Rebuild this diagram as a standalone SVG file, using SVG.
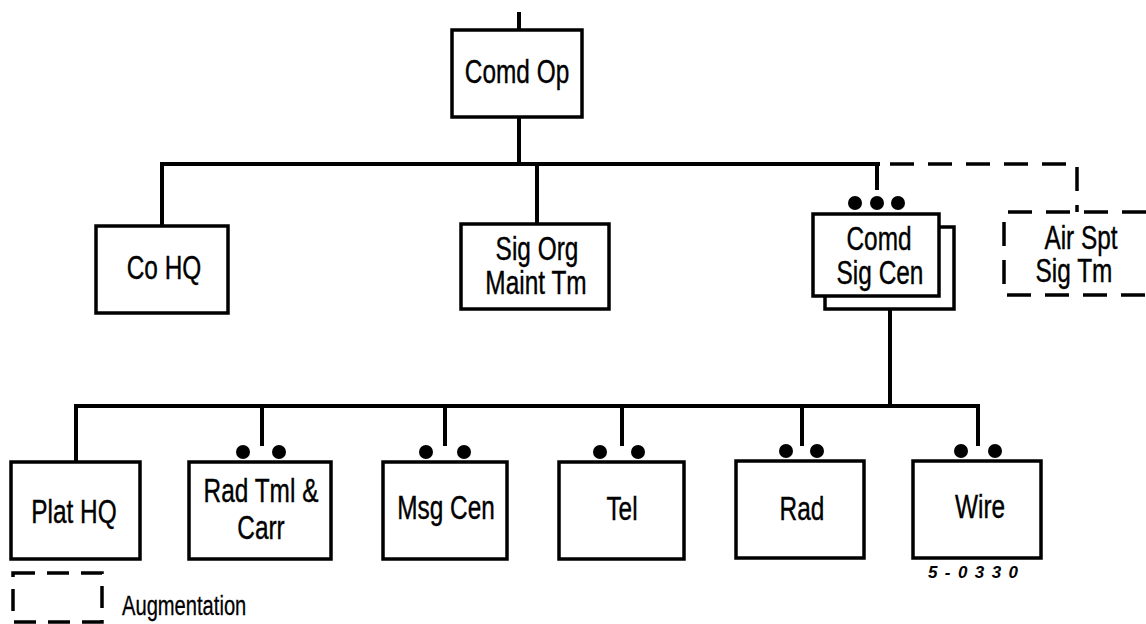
<svg xmlns="http://www.w3.org/2000/svg" width="1146" height="624" viewBox="0 0 1146 624">
<style>
.box{fill:#fff;stroke:#000;stroke-width:3.5}
.dash{fill:none;stroke:#000;stroke-width:3.5;stroke-dasharray:24 14}
.ln{fill:none;stroke:#000;stroke-width:4}
.dot{fill:#000}
.t{font-family:"Liberation Sans",Arial,sans-serif;font-size:33px;fill:#000;text-anchor:middle;stroke:#000;stroke-width:0.4}
.s{font-family:"Liberation Sans",Arial,sans-serif;font-size:28px;fill:#000;stroke:#000;stroke-width:0.3}
.n{font-family:"Liberation Sans",Arial,sans-serif;font-size:17px;font-style:italic;font-weight:bold;fill:#000}
</style>
<rect x="0" y="0" width="1146" height="624" fill="#fff"/>
<g id="connectors">
  <path class="ln" d="M519,12 V30"/>
  <path class="ln" d="M519,117 V164"/>
  <path class="ln" d="M162,226 V164 H880"/>
  <path class="ln" d="M537,164 V224"/>
  <path class="ln" d="M877,164 V190"/>
  <path class="dash" d="M890,164 H1077 V212"/>
  <path class="ln" d="M890,309 V406"/>
  <path class="ln" d="M76,462 V406 H978 V446"/>
  <path class="ln" d="M262,406 V446"/>
  <path class="ln" d="M445,406 V446"/>
  <path class="ln" d="M622,406 V446"/>
  <path class="ln" d="M802,406 V446"/>
</g>
<g id="comd-op">
  <rect class="box" x="452" y="30" width="130" height="87"/>
  <text class="t" transform="translate(517,83) scale(0.74,1)">Comd Op</text>
</g>
<g id="co-hq">
  <rect class="box" x="96" y="226" width="132" height="87"/>
  <text class="t" transform="translate(164,279) scale(0.74,1)">Co HQ</text>
</g>
<g id="sig-org-maint-tm">
  <rect class="box" x="461" y="224" width="148" height="85"/>
  <text class="t" transform="translate(537,260) scale(0.74,1)">Sig Org</text>
  <text class="t" transform="translate(536,294) scale(0.74,1)">Maint Tm</text>
</g>
<g id="comd-sig-cen">
  <rect class="box" x="825" y="227" width="129" height="82"/>
  <rect class="box" x="813" y="214" width="126" height="82"/>
  <circle class="dot" cx="855" cy="203" r="7"/>
  <circle class="dot" cx="877" cy="203" r="7"/>
  <circle class="dot" cx="898" cy="203" r="7"/>
  <text class="t" transform="translate(879,250) scale(0.74,1)">Comd</text>
  <text class="t" transform="translate(880,284) scale(0.74,1)">Sig Cen</text>
</g>
<g id="air-spt-sig-tm">
  <path class="dash" d="M1146,212 H1004 V295 H1146"/>
  <text class="t" transform="translate(1081,249) scale(0.74,1)">Air Spt</text>
  <text class="t" transform="translate(1074,282) scale(0.74,1)">Sig Tm</text>
</g>
<g id="plat-hq">
  <rect class="box" x="11" y="462" width="129" height="97"/>
  <text class="t" transform="translate(74,523) scale(0.74,1)">Plat HQ</text>
</g>
<g id="rad-tml-carr">
  <rect class="box" x="189" y="462" width="142" height="97"/>
  <circle class="dot" cx="243" cy="452" r="7"/>
  <circle class="dot" cx="279" cy="452" r="7"/>
  <text class="t" transform="translate(261,502) scale(0.74,1)">Rad Tml &amp;</text>
  <text class="t" transform="translate(261,539) scale(0.74,1)">Carr</text>
</g>
<g id="msg-cen">
  <rect class="box" x="383" y="462" width="124" height="97"/>
  <circle class="dot" cx="426" cy="452" r="7"/>
  <circle class="dot" cx="464" cy="452" r="7"/>
  <text class="t" transform="translate(446,519) scale(0.74,1)">Msg Cen</text>
</g>
<g id="tel">
  <rect class="box" x="559" y="462" width="125" height="97"/>
  <circle class="dot" cx="600" cy="452" r="7"/>
  <circle class="dot" cx="638" cy="452" r="7"/>
  <text class="t" transform="translate(622,520) scale(0.74,1)">Tel</text>
</g>
<g id="rad">
  <rect class="box" x="736" y="461" width="128" height="97"/>
  <circle class="dot" cx="786" cy="451" r="7"/>
  <circle class="dot" cx="817" cy="451" r="7"/>
  <text class="t" transform="translate(802,520) scale(0.74,1)">Rad</text>
</g>
<g id="wire">
  <rect class="box" x="913" y="461" width="128" height="97"/>
  <circle class="dot" cx="961" cy="451" r="7"/>
  <circle class="dot" cx="995" cy="451" r="7"/>
  <text class="t" transform="translate(980,518) scale(0.74,1)">Wire</text>
</g>
<text class="n" x="928" y="578" textLength="90" lengthAdjust="spacing">5-0330</text>
<g id="legend">
  <rect class="dash" x="13" y="573" width="89" height="49" style="stroke-dasharray:22 12"/>
  <text class="s" transform="translate(122,615) scale(0.72,1)">Augmentation</text>
</g>
</svg>
